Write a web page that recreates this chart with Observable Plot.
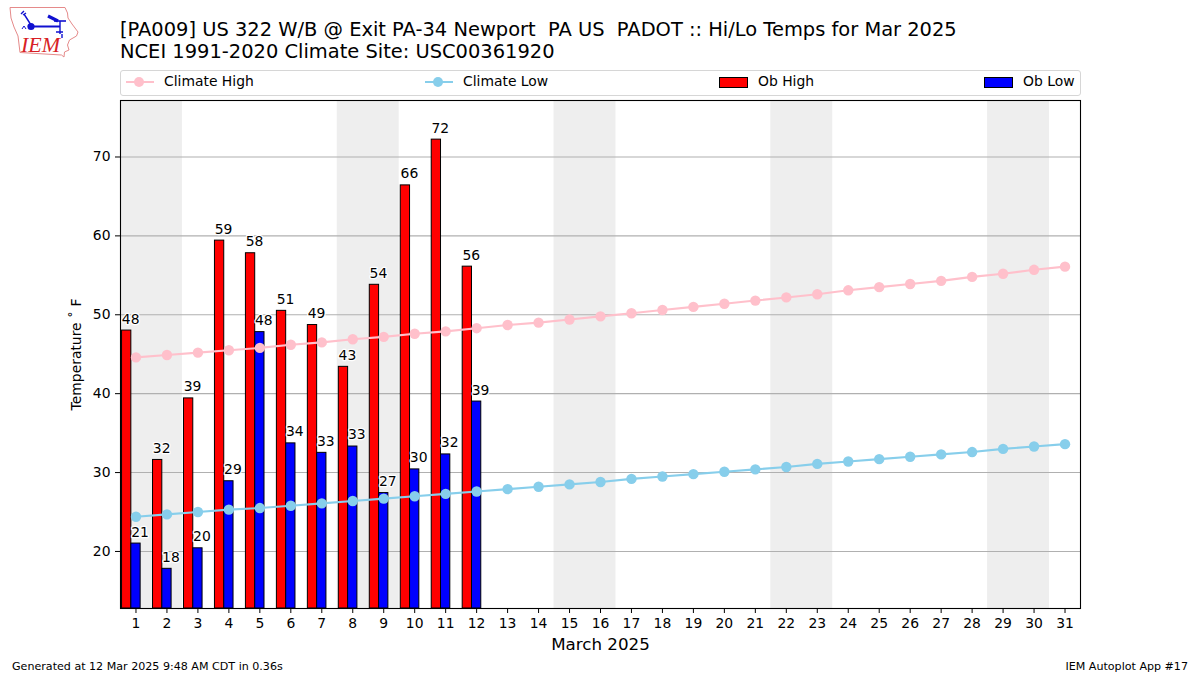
<!DOCTYPE html>
<html><head><meta charset="utf-8">
<script src="https://cdn.jsdelivr.net/npm/d3@7"></script>
<script src="https://cdn.jsdelivr.net/npm/@observablehq/plot@0.6"></script>
<style>
html,body{margin:0;padding:0;background:#fff}
#page{position:relative;width:1200px;height:675px;overflow:hidden;font-family:"DejaVu Sans",sans-serif;color:#000}
#page>*{position:absolute}
.title{left:120px;font-size:19.44px;line-height:22px;white-space:pre}
.foot{font-size:11.1px;line-height:13px;top:660px;white-space:pre}
#legend{left:120px;top:70px;width:959px;height:24px;border:1px solid #d6d6d6;border-radius:3px;background:#fff}
.lt{position:absolute;top:2px;font-size:13.9px;line-height:17px;white-space:pre}
.ll{position:absolute;top:10px;width:28px;height:2px}
.ld{position:absolute;top:6px;width:10px;height:10px;border-radius:50%}
.lb{position:absolute;top:6px;width:27px;height:9px;border:1px solid #000}
#chart{left:0;top:0}
</style></head><body>
<div id="page">
<div id="chart"></div>
<svg id="logo" style="left:0;top:0" width="90" height="64" viewBox="0 0 90 64">
<path d="M10 7.5H65L67.5 13 68 18 72 24 78 32 76.5 36 69.5 40 67.5 45 69 50 64.5 52 64 57 61.5 55 20 52.5 18 36 14 27 11 18Z" fill="none" stroke="#e58a8a" stroke-width="1"/>
<g stroke="#1010d0" fill="none"><path d="M31 26.5H60" stroke-width="2"/><path d="M60 21V34M24 14 31 25M21 14l3-3M23 15l3-2" stroke-width="1.4"/><path d="M48 16 58 21" stroke-width="3.2"/><path d="M54 21H66" stroke-width="1.6"/><path d="M56 32h7M62 34v4" stroke-width="1.4"/><path d="M22 29l2-3 2 3" stroke-width="1"/></g>
<circle cx="31" cy="26.5" r="3.6" fill="#1010d0"/>
<text x="21" y="52" font-family="Liberation Serif" font-style="italic" font-size="22" fill="#d81f26">IEM</text>
</svg>
<div class="title" style="top:19px">[PA009] US 322 W/B @ Exit PA-34 Newport  PA US  PADOT :: Hi/Lo Temps for Mar 2025</div>
<div class="title" style="top:41px">NCEI 1991-2020 Climate Site: USC00361920</div>
<div id="legend">
<div class="ll" style="left:5px;background:#ffc0cb"></div><div class="ld" style="left:13px;background:#ffc0cb"></div><div class="lt" style="left:43px">Climate High</div>
<div class="ll" style="left:304px;background:#87ceeb"></div><div class="ld" style="left:312px;background:#87ceeb"></div><div class="lt" style="left:342px">Climate Low</div>
<div class="lb" style="left:598px;background:#f00"></div><div class="lt" style="left:637px">Ob High</div>
<div class="lb" style="left:863px;background:#00f"></div><div class="lt" style="left:902px">Ob Low</div>
</div>
<div class="foot" style="left:12px">Generated at 12 Mar 2025 9:48 AM CDT in 0.36s</div>
<div class="foot" style="right:12px">IEM Autoplot App #17</div>
</div>
<script>
const days = d3.range(1, 32);
const weekends = [[1,2],[8,9],[15,16],[22,23],[29,30]];
const obDays = d3.range(1, 13);
const obHigh = [48.0,31.6,39.4,59.4,57.8,50.5,48.7,43.4,53.8,66.4,72.2,56.1];
const obHighLabels = [48,32,39,59,58,51,49,43,54,66,72,56];
const obLow = [21.0,17.8,20.4,28.9,47.8,33.7,32.5,33.3,27.4,30.4,32.3,39.0];
const obLowLabels = [21,18,20,29,48,34,33,33,27,30,32,39];
const climateHigh = [44.6,44.9,45.2,45.5,45.8,46.2,46.5,46.9,47.2,47.6,47.9,48.3,48.7,49.0,49.4,49.8,50.2,50.6,51.0,51.4,51.8,52.2,52.6,53.1,53.5,53.9,54.3,54.8,55.2,55.7,56.1];
const climateLow = [24.4,24.7,25.0,25.3,25.5,25.8,26.1,26.4,26.7,27.0,27.3,27.6,27.9,28.2,28.5,28.8,29.2,29.5,29.8,30.1,30.4,30.7,31.1,31.4,31.7,32.0,32.3,32.6,33.0,33.3,33.6];
const yTicks = [20,30,40,50,60,70];
const yMin = 12.77, yMax = 77.16;
const barW = 0.3;

const chart = Plot.plot({
  width: 1200, height: 675,
  marginLeft: 120, marginRight: 120, marginTop: 100, marginBottom: 67,
  style: {fontFamily: '"DejaVu Sans"', fontSize: "13.9px", color: "#000", background: "transparent"},
  x: {domain: [0.5, 31.5]},
  y: {domain: [yMin, yMax]},
  marks: [
    Plot.rect(weekends, {x1: d => d[0] - 0.5, x2: d => d[1] + 0.5, y1: yMin, y2: yMax, fill: "#eeeeee"}),
    Plot.ruleY(yTicks, {stroke: "#b0b0b0", strokeWidth: 1.1}),
    Plot.rect(obDays, {x1: d => d - 1.5 * barW, x2: d => d - 0.5 * barW, y1: yMin, y2: (d, i) => obHigh[i], fill: "#ff0000", stroke: "#000", strokeWidth: 1}),
    Plot.rect(obDays, {x1: d => d - 0.5 * barW, x2: d => d + 0.5 * barW, y1: yMin, y2: (d, i) => obLow[i], fill: "#0000ff", stroke: "#000", strokeWidth: 1}),
    Plot.line(days, {x: d => d, y: (d, i) => climateHigh[i], stroke: "#ffc0cb", strokeWidth: 2.1, curve: "linear"}),
    Plot.dot(days, {x: d => d, y: (d, i) => climateHigh[i], fill: "#ffc0cb", r: 5.2}),
    Plot.line(days, {x: d => d, y: (d, i) => climateLow[i], stroke: "#87ceeb", strokeWidth: 2.1, curve: "linear"}),
    Plot.dot(days, {x: d => d, y: (d, i) => climateLow[i], fill: "#87ceeb", r: 5.2}),
    Plot.text(obDays, {x: d => d - barW, y: (d, i) => obHigh[i], text: (d, i) => String(obHighLabels[i]), dx: 4, dy: -11.5, fill: "#000", stroke: "#fff", strokeWidth: 2.5, fontSize: 13.9}),
    Plot.text(obDays, {x: d => d, y: (d, i) => obLow[i], text: (d, i) => String(obLowLabels[i]), dx: 4, dy: -11.5, fill: "#000", stroke: "#fff", strokeWidth: 2.5, fontSize: 13.9}),
    Plot.frame({stroke: "#000", strokeWidth: 1.1}),
    Plot.axisX(days, {anchor: "bottom", tickSize: 5, tickPadding: 5, tickFormat: d => String(d), label: null, stroke: "#000"}),
    Plot.axisY(yTicks, {anchor: "left", tickSize: 5, tickPadding: 5, tickFormat: d => String(d), label: null, stroke: "#000"}),
    Plot.text(["March 2025"], {frameAnchor: "bottom", dy: 41, text: d => d, fontSize: 16.7, fill: "#000"}),
    Plot.text(["Temperature ˚ F"], {frameAnchor: "left", textAnchor: "middle", dx: -44, rotate: -90, text: d => d, fontSize: 13.9, fill: "#000"})
  ]
});
document.getElementById("chart").appendChild(chart);
</script>
</body></html>
